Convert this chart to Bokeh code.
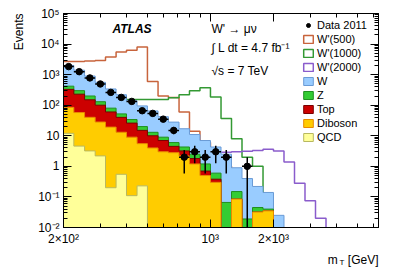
import numpy as np
from bokeh.plotting import figure
from bokeh.models import (LogAxis, FixedTicker, CustomJSTickFormatter, Label, Legend,
                          LegendItem, Range1d, Title)
from bokeh.embed import file_html
from bokeh.resources import INLINE

# ---------------- data ----------------
edges = [200, 224, 252, 283, 317, 356, 399, 448, 502, 564, 632, 710, 796, 893, 1002,
         1125, 1262, 1416, 1589, 1783, 2000, 2244, 2518, 2825, 3170, 3557, 3991, 4477,
         5024, 5637, 6325]

data_2011 = [1830, 1250, 780, 495, 263, 180, 133, 66, 54, 35, 15, 2, 3, 2, 3, 2, 0, 1,
             0, 0, 0, 0, 0, 0, 0, 0, 0, 0, 0, 0]

bkg_qcd = [12, 4.6, 3.2, 2.2, 0.2, 0.55, 0.11, 0.23, 0, 0, 0, 0, 0, 0, 0, 0, 0, 0, 0, 0,
           0, 0, 0, 0, 0, 0, 0, 0, 0, 0]
bkg_diboson = [73, 53, 37, 26, 19, 12.5, 8.9, 5.3, 4, 3, 2.8, 2.2, 1.2, 0.5, 0.3, 0, 0.085, 0,
               0.032, 0.035, 0, 0, 0, 0, 0, 0, 0, 0, 0, 0]
bkg_top = [245, 172, 110, 72, 41, 27, 17, 9.5, 6, 4, 1.7, 1.0, 0.6, 0.2, 0.08, 0, 0, 0, 0, 0,
           0, 0, 0, 0, 0, 0, 0, 0, 0, 0]
bkg_z = [90, 70, 50, 30, 20, 12, 8, 5, 3, 2, 1.5, 1.1, 0.7, 0.5, 0.22, 0.066, 0.065, 0.019,
         0.013, 0.005, 0, 0, 0, 0, 0, 0, 0, 0, 0, 0]
bkg_w = [1580, 1100, 700, 430, 260, 168, 106, 75, 52, 33, 22, 12.7, 8.5, 5.8, 3.7, 2.43, 0.75,
         0.38, 0.175, 0.1, 0.025, 0, 0, 0, 0, 0, 0, 0, 0, 0]

wp_500 = [2700, 2700, 2800, 2900, 3800, 5500, 6300, 8000, 600, 200, 180, 60, 14, 6, 2, 1,
          0.4, 0, 0, 0, 0, 0, 0, 0, 0, 0, 0, 0, 0, 0]
wp_1000 = [155, 155, 155, 155, 155, 155, 155, 155, 155, 155, 175, 220, 300, 370, 185, 37, 8,
           2, 1, 0, 0, 0, 0, 0, 0, 0, 0, 0, 0, 0]
wp_2000 = [0, 0, 0, 0, 0, 0, 0, 0, 0, 0, 0, 0, 0, 2.5, 2.8, 2.9, 3.0, 3.1, 3.3, 3.6, 3.2, 1.4,
           0.28, 0.075, 0.02, 0, 0, 0, 0, 0]

x_tick_labels = {"200": "2×10²", "1000": "10³", "2000": "2×10³"}
y_tick_labels = {"0.01": "10⁻²", "0.1": "10⁻¹", "1": "1", "10": "10", "100": "10²",
                 "1000": "10³", "10000": "10⁴", "100000": "10⁵"}

# ---------------- styling ----------------
FONT = "Liberation Sans"
FLOOR = 1e-4
NAN = float("nan")
edges_a = np.array(edges, dtype=float)
centers = np.sqrt(edges_a[:-1] * edges_a[1:])


def ext(vals):
    v = np.maximum(np.asarray(vals, dtype=float), FLOOR)
    return list(v) + [v[-1]]


p = figure(frame_width=315, frame_height=214, x_axis_type="log", y_axis_type="log",
           x_range=Range1d(200, 6325), y_range=Range1d(0.01, 1e5),
           output_backend="svg", toolbar_location=None,
           min_border_left=63, min_border_right=15, min_border_top=13, min_border_bottom=40)
p.xgrid.visible = False
p.ygrid.visible = False
p.outline_line_color = "black"
p.background_fill_color = "white"

x_major = [float(k) for k in x_tick_labels]
x_minor = [300, 400, 500, 600, 700, 800, 900, 3000, 4000, 5000, 6000]
y_major = [float(k) for k in y_tick_labels]
y_minor = [m * 10.0 ** e for e in range(-2, 5) for m in range(2, 10)]

xfmt_code = "const m = %s; const k = String(tick); return (k in m) ? m[k] : '';" % (
    str(x_tick_labels).replace("'", '"'))
yfmt_code = "const m = %s; const k = String(tick); return (k in m) ? m[k] : '';" % (
    str(y_tick_labels).replace("'", '"'))
blank_code = "return '';"


def style_axis(ax, ticks, minor, code, labels=True):
    ax.ticker = FixedTicker(ticks=ticks, minor_ticks=minor)
    ax.formatter = CustomJSTickFormatter(code=code if labels else blank_code)
    ax.axis_line_color = "black"
    ax.major_tick_line_color = "black"
    ax.minor_tick_line_color = "black"
    ax.major_tick_in = 8
    ax.major_tick_out = 0
    ax.minor_tick_in = 4
    ax.minor_tick_out = 0
    ax.major_label_text_font = FONT
    ax.major_label_text_font_size = "12px"
    ax.major_label_text_color = "black"
    ax.major_label_standoff = 4 if labels else 0


style_axis(p.xaxis[0], x_major, x_minor, xfmt_code)
style_axis(p.yaxis[0], y_major, y_minor, yfmt_code)
top_ax = LogAxis()
right_ax = LogAxis()
style_axis(top_ax, x_major, x_minor, xfmt_code, labels=False)
style_axis(right_ax, y_major, y_minor, yfmt_code, labels=False)
p.add_layout(top_ax, "above")
p.add_layout(right_ax, "right")

# ---------------- signals (drawn first, the stack covers them) ----------------
signals = [("W'(500)", wp_500, "#c8643c"),
           ("W'(1000)", wp_1000, "#339933"),
           ("W'(2000)", wp_2000, "#8a5ccc")]
for name, vals, col in signals:
    p.step(x=edges, y=ext(vals), mode="after", line_color=col, line_width=1.5)

# ---------------- stacked background ----------------
layers = [  # bottom -> top
    ("QCD", bkg_qcd, "#ffff99", "#b8b860"),
    ("Diboson", bkg_diboson, "#ffcc00", "#e88a00"),
    ("Top", bkg_top, "#cc0000", "#7a0000"),
    ("Z", bkg_z, "#33cc33", "#1f8f1f"),
    ("W", bkg_w, "#99ccff", "#6a9bd6"),
]
cum = np.zeros(len(edges) - 1)
cums = []
for name, vals, fc, lc in layers:
    cum = cum + np.asarray(vals, dtype=float)
    cums.append(cum.copy())

for (name, vals, fc, lc), top in reversed(list(zip(layers, cums))):
    p.varea_step(x=edges, y1=[FLOOR] * len(edges), y2=ext(top), step_mode="after",
                 fill_color=fc)
    p.step(x=edges, y=ext(top), mode="after", line_color=lc, line_width=1)

# ---------------- data ----------------
d = np.asarray(data_2011, dtype=float)
mask = d > 0
xc = centers[mask]
yd = d[mask]
err = np.sqrt(yd)
lo = np.maximum(yd - err, FLOOR)
hi = yd + err
p.segment(x0=xc, y0=lo, x1=xc, y1=hi, line_color="black", line_width=1.5)
p.segment(x0=edges_a[:-1][mask], y0=yd, x1=edges_a[1:][mask], y1=yd,
          line_color="black", line_width=1.5)
data_r = p.scatter(x=xc, y=yd, size=6.5, marker="circle", fill_color="black",
                   line_color="black")

# ---------------- legend (proxy glyphs carry no visible data) ----------------
items = [LegendItem(label="Data 2011", renderers=[data_r])]
for name, vals, col in signals:
    r = p.quad(left=[NAN], right=[NAN], top=[NAN], bottom=[NAN], fill_color="white",
               fill_alpha=0, line_color=col, line_width=1.5)
    items.append(LegendItem(label=name, renderers=[r]))
for name, vals, fc, lc in reversed(layers):
    r = p.quad(left=[NAN], right=[NAN], top=[NAN], bottom=[NAN], fill_color=fc,
               line_color=lc, line_width=1)
    items.append(LegendItem(label=name, renderers=[r]))

legend = Legend(items=items, location=(239, 84), glyph_width=12, glyph_height=10,
                label_standoff=3, spacing=1, padding=0, margin=0, label_height=13,
                border_line_alpha=0, background_fill_alpha=0,
                label_text_font=FONT, label_text_font_size="11px",
                label_text_color="black")
p.add_layout(legend)

# ---------------- texts inside the frame ----------------
def lab(text, x, y, size="12px", style="normal"):
    p.add_layout(Label(x=x, y=y, x_units="screen", y_units="screen", text=text,
                       text_font=FONT, text_font_size=size, text_font_style=style,
                       text_align="left", text_baseline="middle", text_color="black"))


lab("ATLAS", 49, 199, size="12px", style="bold italic")
lab("W' → μν", 148, 199)
lab("∫ L dt = 4.7 fb⁻¹", 148, 180)
lab("√s = 7 TeV", 148, 157)

# ---------------- axis titles (side panels, ROOT-like placement) ----------------
def side_title(text, side, size, standoff, offset, valign="top"):
    p.add_layout(Title(text=text, align="right", vertical_align=valign, standoff=standoff,
                       offset=offset, text_font=FONT, text_font_size=size,
                       text_font_style="normal", text_color="black"), side)


side_title("Events", "left", "12px", 16, 0)
side_title("m\u00a0\u00a0\u00a0[GeV]", "below", "12px", 8, 0)
side_title("T", "below", "8px", -30, 34)

open("out.html", "w").write(file_html(p, INLINE))
